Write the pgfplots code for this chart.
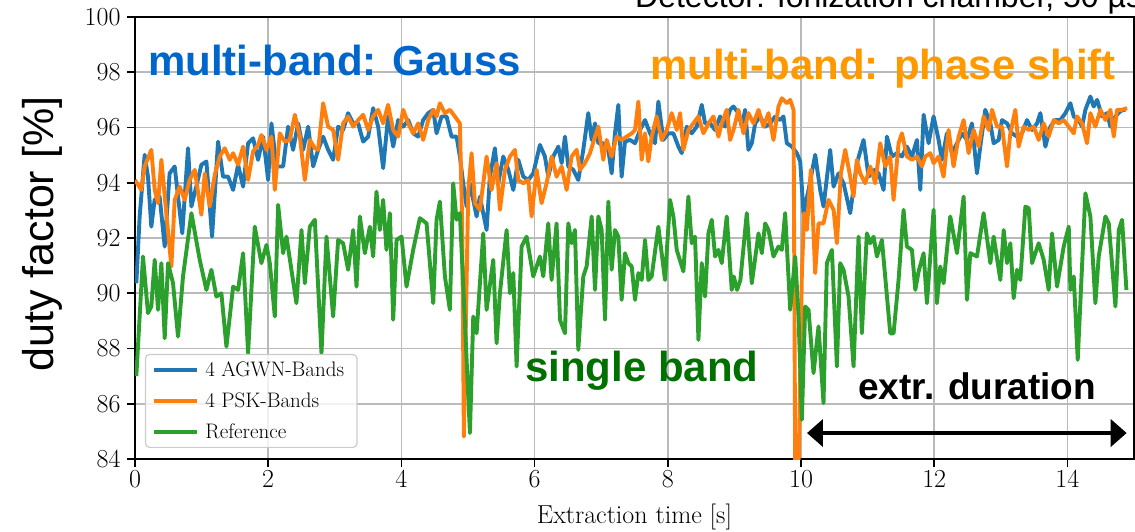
\documentclass[border=0pt]{standalone}
\usepackage{fontspec}
\usepackage{pgfplots}
\pgfplotsset{compat=1.18}
\usetikzlibrary{arrows.meta}
\newfontfamily\arial{Liberation Sans}
\definecolor{cblue}{RGB}{31,119,180}
\definecolor{corange}{RGB}{255,127,14}
\definecolor{cgreen}{RGB}{44,160,44}
\definecolor{tgauss}{RGB}{0,102,204}
\definecolor{tphase}{RGB}{255,153,0}
\definecolor{tsingle}{RGB}{0,112,0}
\begin{document}
\begin{tikzpicture}
\begin{axis}[
  at={(0pt,0pt)}, anchor=south west,
  scale only axis, width=999pt, height=442pt,
  xmin=0, xmax=15, ymin=84, ymax=100,
  xtick={0,2,...,14}, ytick={84,86,...,100},
  grid=major, grid style={line width=1.6pt, color=black!27},
  axis line style={line width=1.8pt, black},
  tick align=outside, major tick length=8pt, tick style={line width=1.6pt, black},
  tick pos=left,
  /pgf/number format/assume math mode=true,
  ticklabel style={font=\fontsize{26}{30}\selectfont},
  yticklabel style={xshift=-3pt},
  xlabel={Extraction time [s]},
  xlabel style={font=\fontsize{26}{30}\selectfont, at={(axis description cs:0.5,-0.147)}, anchor=base},
  ylabel={duty factor [\%]},
  ylabel style={font=\arial\fontsize{43}{48}\selectfont, at={(axis description cs:-0.0926,0.509)}, anchor=center},
  legend cell align=left,
  legend image code/.code={\draw[#1] (0pt,0pt) -- (43pt,0pt);},
  legend style={at={(0.010,0.025)}, anchor=south west,
    font=\fontsize{21}{25}\selectfont,
    draw=black!20, line width=1.2pt, rounded corners=4pt,
    fill=white, fill opacity=0.8, text opacity=1,
    inner xsep=6pt, inner ysep=7pt, row sep=15pt, column sep=0pt,
    nodes={inner xsep=7pt, inner ysep=0pt}},
]
\addplot[cblue, line width=3.9pt, line join=round] coordinates {
(0.02,90.36)(0.07,92.78)(0.145,95.01)(0.195,94.22)(0.245,92.41)(0.295,93.38)(0.37,93.50)(0.446,91.69)
(0.52,94.34)(0.596,94.59)(0.646,93.50)(0.71,92.17)(0.796,95.25)(0.847,93.14)(0.92,93.86)(0.997,94.65)
(1.072,94.77)(1.157,92.05)(1.247,95.49)(1.322,94.22)(1.398,94.22)(1.473,93.74)(1.548,94.65)(1.623,93.86)
(1.698,95.43)(1.773,95.61)(1.848,94.83)(1.924,95.67)(1.999,94.10)(2.049,96.15)(2.124,94.59)(2.224,94.59)
(2.299,96.03)(2.374,95.19)(2.45,96.15)(2.525,95.19)(2.6,96.03)(2.675,94.59)(2.75,95.19)(2.825,95.67)
(2.9,95.19)(2.975,94.83)(3.05,96.03)(3.125,95.91)(3.2,96.52)(3.276,96.15)(3.351,96.15)(3.426,95.49)
(3.501,95.67)(3.576,96.70)(3.651,96.03)(3.726,94.53)(3.8,96.40)(3.877,95.31)(3.952,96.27)(4.027,96.03)
(4.102,96.27)(4.177,95.79)(4.252,95.67)(4.327,96.27)(4.403,96.52)(4.478,96.64)(4.528,95.79)(4.603,96.40)
(4.678,96.40)(4.753,95.67)(4.828,95.67)(4.878,94.95)(4.928,93.98)(4.979,93.14)(5.029,93.98)(5.079,93.38)
(5.129,92.78)(5.179,93.50)(5.279,92.29)(5.329,94.22)(5.404,95.25)(5.454,93.98)(5.529,94.95)(5.605,94.47)
(5.68,93.74)(5.755,94.83)(5.83,94.22)(5.905,94.10)(5.98,94.34)(6.08,95.37)(6.155,94.95)(6.205,94.22)
(6.28,94.95)(6.356,95.31)(6.406,94.71)(6.456,95.67)(6.506,94.59)(6.581,94.47)(6.656,94.10)(6.731,95.19)
(6.806,96.52)(6.857,95.55)(6.907,96.15)(6.957,95.43)(7.032,95.43)(7.107,95.19)(7.157,94.34)(7.207,95.79)
(7.257,96.82)(7.307,94.22)(7.357,95.49)(7.433,95.55)(7.508,95.43)(7.583,95.91)(7.658,96.27)(7.733,95.79)
(7.808,95.43)(7.858,96.94)(7.933,95.55)(8.009,95.79)(8.084,95.79)(8.159,95.31)(8.209,95.07)(8.284,96.03)
(8.359,95.79)(8.434,96.03)(8.51,96.82)(8.56,96.15)(8.635,96.15)(8.71,95.91)(8.785,96.40)(8.86,96.03)
(8.935,96.64)(8.986,96.76)(9.061,96.52)(9.111,96.03)(9.161,96.64)(9.211,95.19)(9.261,95.43)(9.312,96.15)
(9.387,96.40)(9.462,96.03)(9.537,96.15)(9.612,96.40)(9.687,96.27)(9.737,96.40)(9.787,95.43)(9.863,95.31)
(9.938,95.07)(9.988,94.77)(10.038,92.90)(10.113,93.74)(10.213,95.01)(10.288,93.74)(10.338,93.14)(10.438,95.19)
(10.489,93.86)(10.564,94.34)(10.639,93.98)(10.739,92.90)(10.839,94.71)(10.939,95.55)(11.015,94.22)(11.09,94.47)
(11.165,94.34)(11.24,93.74)(11.29,95.67)(11.365,94.95)(11.44,95.07)(11.515,94.95)(11.59,95.31)(11.666,94.95)
(11.741,95.55)(11.791,93.74)(11.841,96.46)(11.916,95.43)(11.991,96.40)(12.066,95.55)(12.116,94.83)(12.191,95.79)
(12.267,95.07)(12.342,95.43)(12.417,95.79)(12.492,95.55)(12.567,96.15)(12.642,94.34)(12.692,95.31)(12.767,96.64)
(12.843,96.15)(12.893,95.43)(12.968,95.55)(13.018,96.27)(13.093,96.15)(13.168,95.79)(13.243,95.67)(13.318,95.79)
(13.394,96.27)(13.469,95.91)(13.544,96.15)(13.594,96.52)(13.669,95.31)(13.744,96.03)(13.819,96.27)(13.894,96.27)
(13.97,96.52)(14.045,96.88)(14.095,96.40)(14.17,96.27)(14.22,96.03)(14.27,96.64)(14.345,97.12)(14.395,96.76)
(14.446,97.0)(14.521,96.40)(14.596,96.52)(14.646,96.03)(14.72,96.4)(14.8,96.6)(14.87,96.65)
};
\addlegendentry{4 AGWN-Bands}
\addplot[corange, line width=3.9pt, line join=round] coordinates {
(0.0,94.10)(0.095,93.74)(0.145,94.59)(0.245,95.19)(0.296,93.74)(0.346,93.26)(0.396,94.83)(0.47,92.90)
(0.546,90.97)(0.596,93.38)(0.671,93.86)(0.746,93.38)(0.82,94.10)(0.897,94.47)(0.997,92.84)(1.047,94.34)
(1.122,93.14)(1.197,94.28)(1.272,94.95)(1.347,95.25)(1.423,94.83)(1.473,95.07)(1.548,94.65)(1.623,95.31)
(1.698,94.10)(1.773,95.13)(1.848,95.37)(1.898,95.73)(1.974,95.19)(2.049,95.67)(2.099,93.74)(2.174,95.79)
(2.249,95.49)(2.324,95.55)(2.4,96.46)(2.475,95.67)(2.55,94.10)(2.625,95.55)(2.7,95.25)(2.75,95.19)
(2.825,96.88)(2.9,96.03)(2.975,95.91)(3.05,94.83)(3.125,96.15)(3.2,96.40)(3.276,96.03)(3.351,96.27)
(3.426,96.46)(3.501,95.91)(3.576,96.40)(3.651,96.64)(3.726,96.15)(3.8,96.82)(3.877,95.91)(3.952,95.67)
(4.027,96.64)(4.102,96.15)(4.177,95.79)(4.252,96.15)(4.327,95.55)(4.403,96.27)(4.478,96.64)(4.528,96.40)
(4.578,96.88)(4.653,96.52)(4.728,96.64)(4.803,96.40)(4.878,96.15)(4.913,92.53)(4.938,84.81)(4.968,88.92)
(5.004,93.74)(5.054,95.07)(5.104,93.26)(5.179,93.02)(5.279,94.95)(5.354,93.74)(5.429,94.71)(5.479,93.02)
(5.555,94.47)(5.63,94.95)(5.705,95.19)(5.755,94.10)(5.83,93.98)(5.905,94.10)(5.955,92.78)(6.03,94.47)
(6.105,93.26)(6.18,93.98)(6.255,94.95)(6.33,94.22)(6.406,94.59)(6.481,93.74)(6.556,94.95)(6.631,95.19)
(6.681,94.47)(6.756,94.71)(6.832,95.07)(6.907,95.67)(6.957,96.03)(7.032,94.83)(7.082,95.55)(7.157,94.95)
(7.232,95.67)(7.307,95.55)(7.383,95.67)(7.458,95.79)(7.508,95.91)(7.558,96.94)(7.608,94.83)(7.658,95.79)
(7.708,94.77)(7.758,95.67)(7.833,96.40)(7.908,95.55)(7.984,95.91)(8.059,96.52)(8.134,95.91)(8.184,96.52)
(8.234,95.19)(8.309,95.91)(8.384,96.15)(8.46,96.40)(8.535,95.79)(8.61,96.15)(8.685,96.40)(8.76,95.67)
(8.81,96.15)(8.885,96.64)(8.935,95.55)(8.986,95.91)(9.061,96.64)(9.136,95.79)(9.211,96.52)(9.287,96.15)
(9.362,96.64)(9.437,96.03)(9.512,96.52)(9.587,95.55)(9.662,96.76)(9.712,97.06)(9.787,96.88)(9.838,97.0)
(9.888,96.64)(9.913,83.5)(9.963,83.5)(10.013,90.73)(10.048,92.90)(10.088,92.29)(10.148,94.47)(10.213,90.73)
(10.263,92.53)(10.338,92.53)(10.413,93.38)(10.489,93.02)(10.539,91.81)(10.599,94.34)(10.664,95.19)(10.739,94.22)
(10.789,93.50)(10.839,94.83)(10.889,94.34)(10.964,93.98)(11.04,94.59)(11.115,93.98)(11.19,95.43)(11.265,94.59)
(11.34,94.95)(11.39,93.38)(11.465,95.43)(11.515,95.79)(11.59,94.95)(11.666,94.83)(11.741,94.95)(11.816,94.59)
(11.866,94.95)(11.941,95.07)(11.991,94.71)(12.066,94.95)(12.141,94.22)(12.216,95.91)(12.291,94.59)(12.367,95.67)
(12.442,96.27)(12.517,95.07)(12.592,95.91)(12.667,95.31)(12.742,96.40)(12.818,95.91)(12.868,96.64)(12.943,96.03)
(13.018,96.03)(13.093,94.59)(13.143,95.79)(13.218,96.64)(13.268,95.31)(13.343,96.03)(13.419,95.91)(13.494,96.03)
(13.569,95.55)(13.644,96.15)(13.719,95.67)(13.794,96.27)(13.869,96.15)(13.944,96.27)(14.02,96.03)(14.095,95.79)
(14.145,96.40)(14.22,96.15)(14.295,95.43)(14.345,96.52)(14.42,96.03)(14.496,96.64)(14.571,96.27)(14.646,96.64)
(14.696,95.67)(14.746,96.64)(14.821,96.64)(14.896,96.70)
};
\addlegendentry{4 PSK-Bands}
\addplot[cgreen, line width=3.9pt, line join=round] coordinates {
(0.02,87.0)(0.12,91.33)(0.195,89.28)(0.245,89.52)(0.296,91.21)(0.346,89.40)(0.396,91.09)(0.446,88.37)
(0.496,91.09)(0.571,90.36)(0.646,88.43)(0.721,90.61)(0.847,92.90)(0.972,91.21)(1.072,90.12)(1.147,90.85)
(1.222,89.88)(1.297,90.0)(1.373,88.07)(1.473,90.24)(1.548,90.12)(1.623,91.45)(1.698,87.83)(1.798,92.41)
(1.898,91.09)(1.974,91.75)(2.024,91.09)(2.099,89.16)(2.149,93.20)(2.224,91.45)(2.274,92.05)(2.424,89.64)
(2.5,92.29)(2.55,90.36)(2.625,92.41)(2.7,92.66)(2.8,87.83)(2.875,92.05)(2.975,89.16)(3.05,91.93)
(3.125,91.81)(3.2,90.85)(3.276,92.29)(3.326,90.24)(3.376,92.78)(3.451,91.45)(3.526,92.41)(3.576,91.33)
(3.626,93.68)(3.676,92.29)(3.726,93.38)(3.776,91.57)(3.827,92.90)(3.877,89.04)(3.927,91.93)(4.002,92.05)
(4.077,90.24)(4.177,91.57)(4.277,92.72)(4.378,92.53)(4.478,89.64)(4.528,92.66)(4.578,93.32)(4.653,90.61)
(4.728,89.40)(4.778,93.98)(4.828,92.66)(4.878,92.90)(4.954,88.92)(5.029,84.94)(5.079,89.16)(5.129,88.55)
(5.229,92.17)(5.279,89.40)(5.379,91.21)(5.429,88.19)(5.479,90.0)(5.58,92.29)(5.63,90.0)(5.68,90.73)
(5.73,87.35)(5.805,91.69)(5.88,92.05)(5.98,90.61)(6.08,91.33)(6.13,90.61)(6.205,92.53)(6.255,90.48)
(6.33,92.53)(6.381,89.04)(6.456,88.55)(6.506,92.53)(6.556,91.81)(6.606,92.29)(6.656,87.95)(6.731,90.61)
(6.781,90.97)(6.857,92.78)(6.907,90.12)(6.957,92.78)(7.007,92.29)(7.057,89.04)(7.107,93.32)(7.157,90.85)
(7.207,92.29)(7.257,92.05)(7.307,89.76)(7.357,91.45)(7.408,91.09)(7.458,90.97)(7.508,89.76)(7.558,90.73)
(7.608,90.48)(7.658,91.93)(7.708,90.48)(7.758,90.61)(7.858,92.41)(7.958,90.48)(8.034,93.38)(8.084,92.78)
(8.134,91.57)(8.234,90.79)(8.309,93.50)(8.359,91.81)(8.409,92.05)(8.46,88.31)(8.51,91.09)(8.56,89.88)
(8.61,92.17)(8.66,92.66)(8.71,91.33)(8.76,91.57)(8.81,91.09)(8.885,92.78)(8.96,90.12)(8.99,90.61)
(9.04,90.12)(9.09,90.48)(9.186,92.90)(9.261,90.36)(9.362,92.17)(9.412,91.45)(9.462,92.53)(9.512,92.29)
(9.587,91.33)(9.662,91.69)(9.712,91.57)(9.762,92.90)(9.838,89.40)(9.913,91.33)(9.963,89.16)(10.013,85.42)
(10.063,89.52)(10.113,89.40)(10.188,87.11)(10.263,88.80)(10.338,86.02)(10.388,91.09)(10.464,91.57)(10.539,87.35)
(10.589,91.09)(10.639,90.85)(10.714,89.88)(10.789,87.35)(10.864,92.05)(10.914,88.55)(10.989,92.17)(11.04,91.81)
(11.09,92.05)(11.14,91.33)(11.215,91.93)(11.34,88.55)(11.39,88.55)(11.465,90.48)(11.54,93.02)(11.59,91.69)
(11.666,91.57)(11.716,90.12)(11.766,90.79)(11.841,91.45)(11.891,89.64)(11.991,93.02)(12.041,89.64)(12.091,90.97)
(12.141,90.36)(12.241,92.78)(12.342,91.45)(12.442,93.50)(12.492,89.76)(12.542,91.45)(12.642,91.33)(12.742,92.90)
(12.843,91.09)(12.893,92.05)(12.993,90.48)(13.043,92.29)(13.093,91.09)(13.143,91.81)(13.193,89.82)(13.243,90.85)
(13.293,90.48)(13.369,93.14)(13.419,93.08)(13.469,91.09)(13.569,91.81)(13.644,91.21)(13.719,90.12)(13.769,92.17)
(13.844,90.24)(13.944,91.69)(14.02,92.41)(14.045,90.12)(14.095,90.61)(14.155,87.59)(14.27,93.62)(14.345,92.78)
(14.42,89.64)(14.47,91.33)(14.571,92.78)(14.621,92.53)(14.721,89.52)(14.771,92.29)(14.821,92.66)(14.886,90.12)
};
\addlegendentry{Reference}
\node[anchor=base west, inner sep=0pt, text=tgauss, font=\arial\bfseries\fontsize{42}{48}\selectfont] at (axis cs:0.195,97.90) {multi-band: Gauss};
\node[anchor=base west, inner sep=0pt, text=tphase, font=\arial\bfseries\fontsize{42}{48}\selectfont] at (axis cs:7.73,97.72) {multi-band: phase shift};
\node[anchor=base west, inner sep=0pt, text=tsingle, font=\arial\bfseries\fontsize{42}{48}\selectfont] at (axis cs:5.856,86.82) {single band};
\node[anchor=base west, inner sep=0pt, text=black, font=\arial\bfseries\fontsize{37}{42}\selectfont] at (axis cs:10.856,86.14) {extr. duration};
\draw[line width=4.5pt, {Triangle[length=16pt,width=27pt]}-{Triangle[length=16pt,width=27pt]}] (axis cs:10.09,84.94) -- (axis cs:14.89,84.94);
\end{axis}
\node[anchor=base west, inner sep=0pt, font=\arial\fontsize{32}{36}\selectfont] at (500pt,451pt) {Detector: Ionization chamber, 50 µs};
\pgfresetboundingbox
\path[use as bounding box] (-135pt,-72pt) rectangle (1000pt,459pt);
\end{tikzpicture}
\end{document}
